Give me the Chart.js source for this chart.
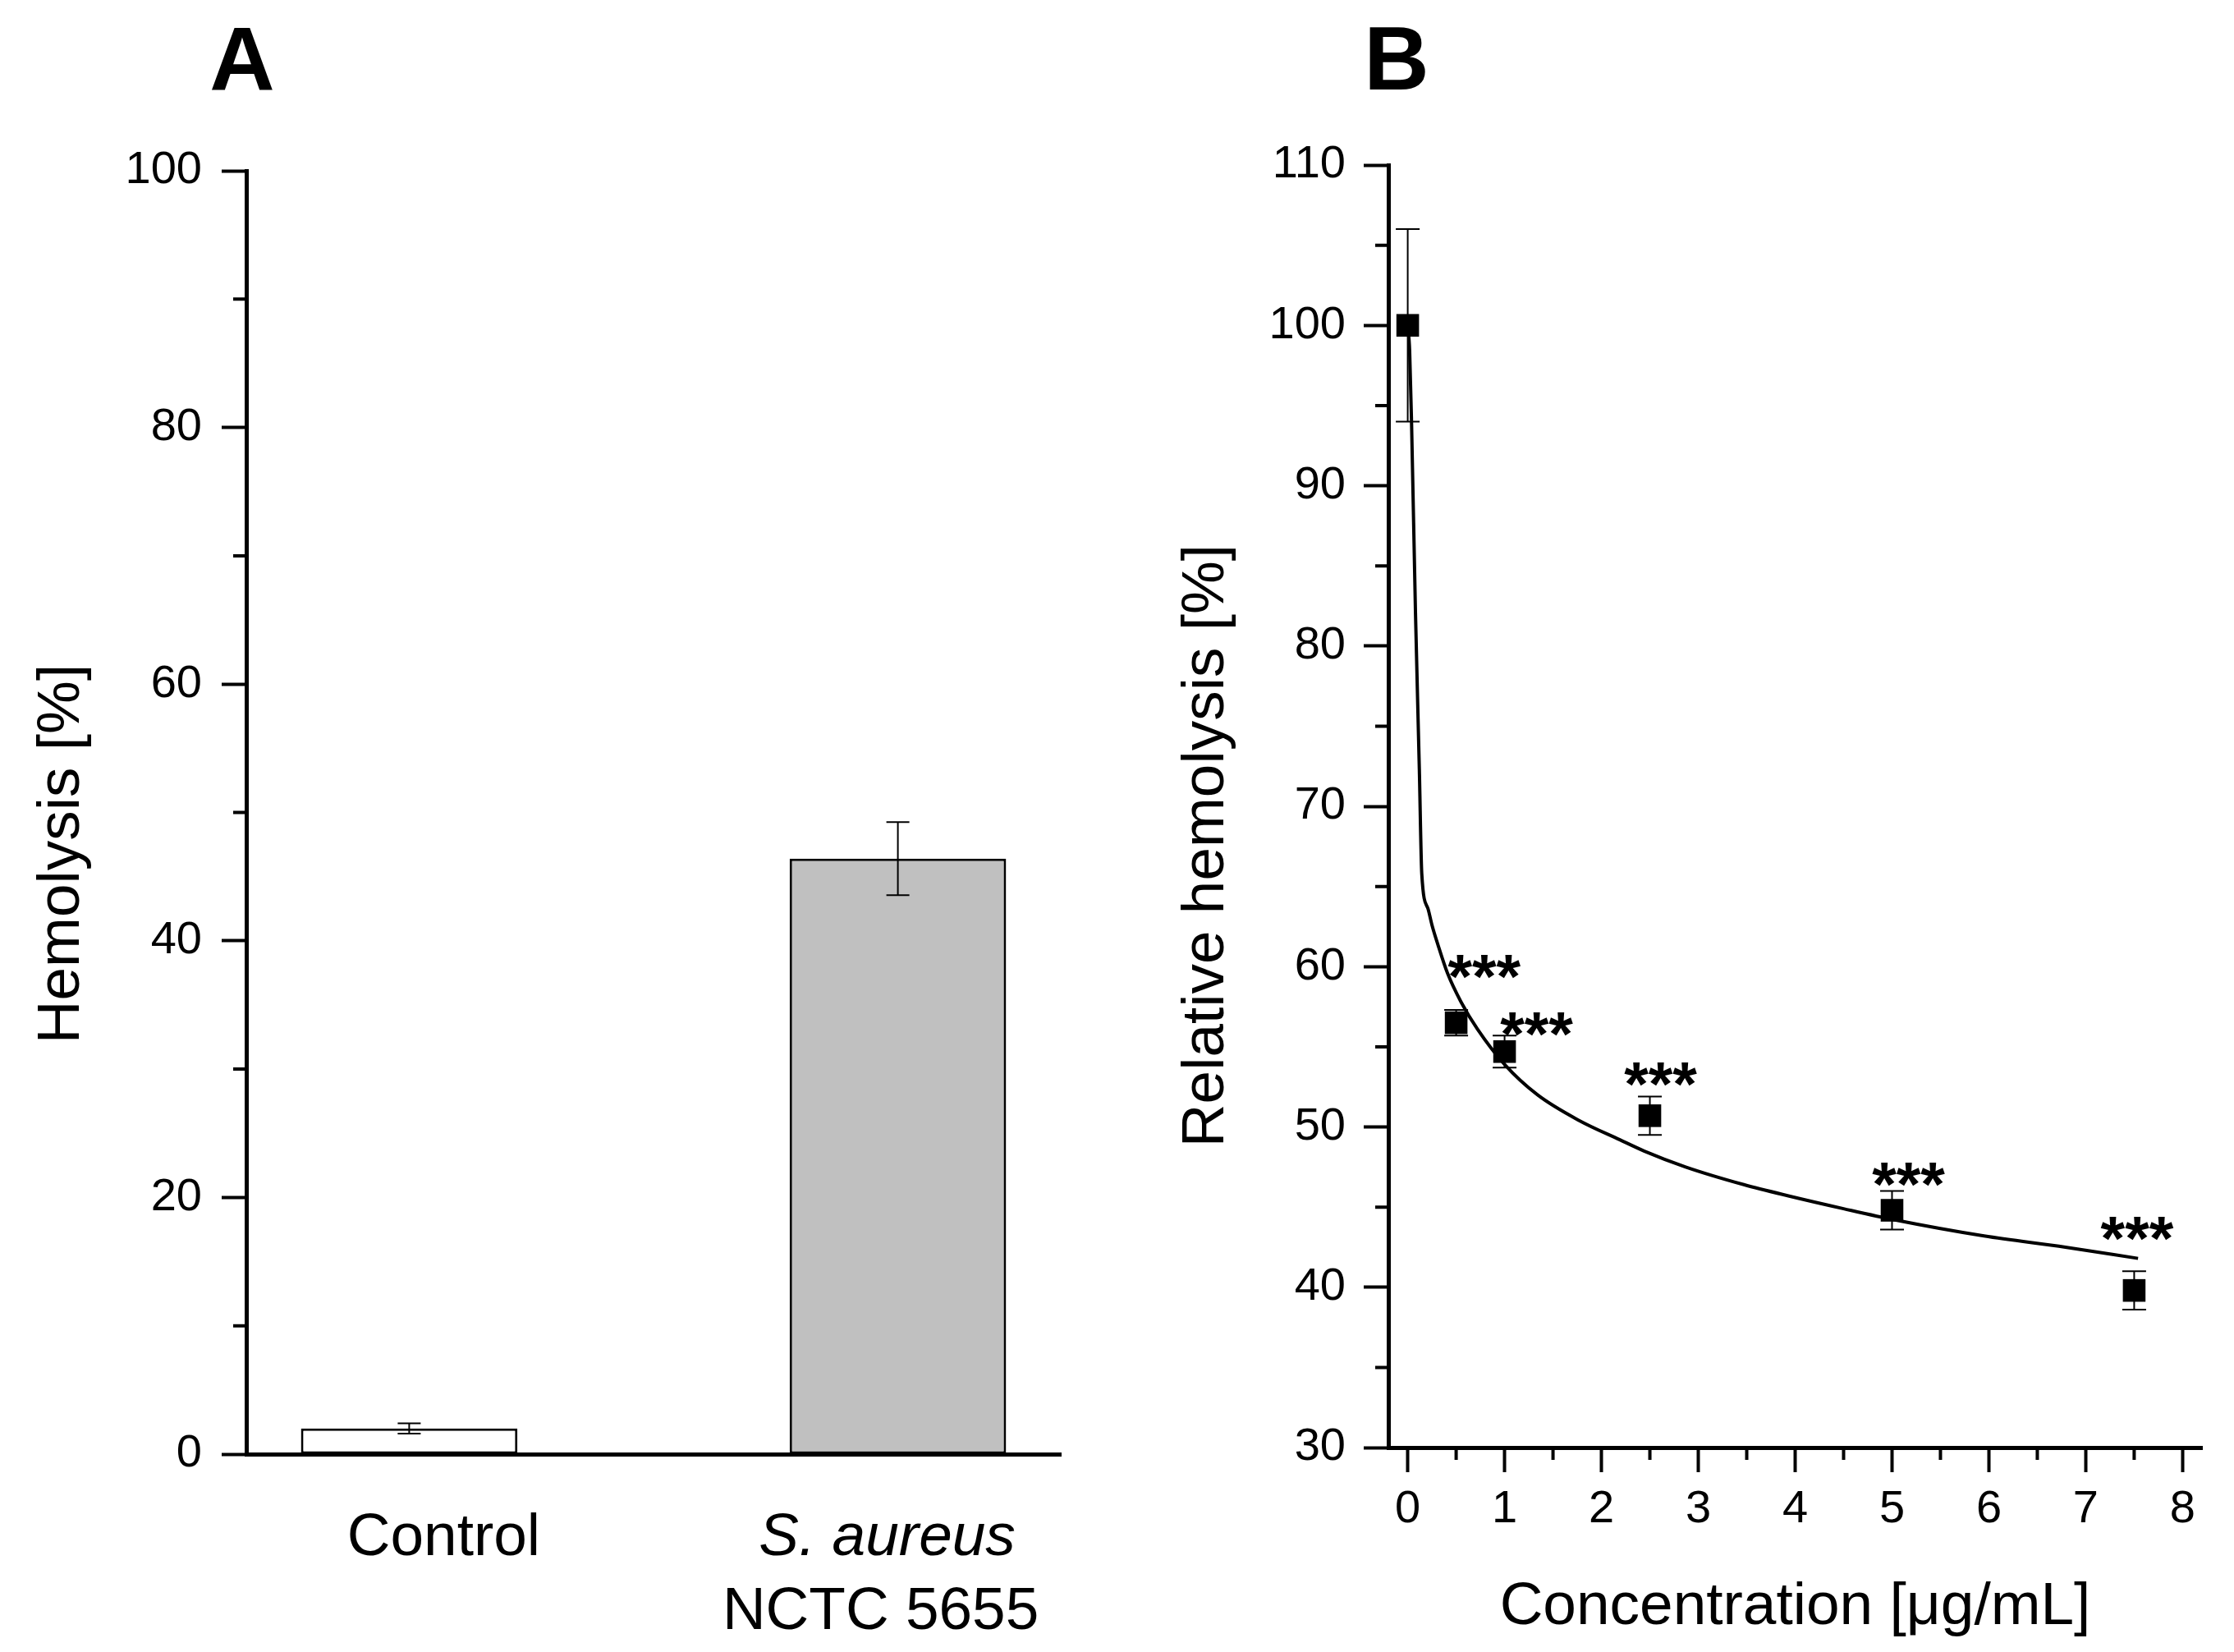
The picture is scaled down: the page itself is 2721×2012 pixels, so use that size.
<!DOCTYPE html>
<html>
<head>
<meta charset="utf-8">
<title>Hemolysis</title>
<script src="https://cdn.jsdelivr.net/npm/chart.js@4.4.1/dist/chart.umd.min.js"></script>
<style>
    html, body { margin: 0; padding: 0; background: #fff; }
    body { width: 2721px; height: 2012px; position: relative; overflow: hidden; }
    canvas { position: absolute; top: 0; }
    #chartA { left: 0; }
    #chartB { left: 1360px; }
</style>
</head>
<body>
<canvas id="chartA" width="1360" height="2012"></canvas>
<canvas id="chartB" width="1361" height="2012"></canvas>
<script>
// Panel A: hemolysis of the controls
const categoriesA = [['Control'], ['S. aureus', 'NCTC 5655']];
const hemolysisA = [2.0, 46.4];
const errorsA = [0.4, 2.85];
const yTicksA = [0, 20, 40, 60, 80, 100];

// Panel B: relative hemolysis vs concentration
const concentrationB = [0, 0.5, 1, 2.5, 5, 7.5];
const hemolysisB = [100, 56.5, 54.7, 50.7, 44.8, 39.8];
const errorsB = [6.0, 0.8, 1.0, 1.2, 1.2, 1.2];
// fitted curve
const fitX = [0, 0.02, 0.04, 0.08, 0.12, 0.145, 0.21, 0.25, 0.31, 0.41, 0.55, 0.72, 1.0, 1.34, 1.77, 2.19, 2.44, 2.87, 3.47, 3.93, 4.5, 5.03, 5.95, 6.79, 7.54];
const fitY = [100, 98.4, 93.8, 82.1, 72.3, 65.8, 63.6, 62.6, 61.4, 59.6, 57.8, 56.1, 53.9, 52.0, 50.4, 49.2, 48.5, 47.5, 46.4, 45.7, 44.9, 44.2, 43.2, 42.5, 41.8];
// significance marks
const starText = ['***', '***', '***', '***', '***'];
const starX = [0.79, 1.33, 2.61, 5.17, 7.53];
const starY = [60.3, 56.75, 53.6, 47.37, 43.97];
const xTicksB = [0, 1, 2, 3, 4, 5, 6, 7, 8];
const yTicksB = [30, 40, 50, 60, 70, 80, 90, 100, 110];

const FONT = '"Liberation Sans", Arial, sans-serif';
Chart.defaults.font.family = FONT;
Chart.defaults.color = '#000';

function midpoints(arr) {
    return arr.slice(1).map((v, i) => (v + arr[i]) / 2);
}

function minorTicks(id, scaleId, values, len) {
    return {
        id: id,
        afterDraw(chart) {
            const s = chart.scales[scaleId];
            const ctx = chart.ctx;
            ctx.save();
            ctx.strokeStyle = '#000';
            ctx.lineWidth = 4;
            ctx.beginPath();
            values.forEach(v => {
                const p = s.getPixelForValue(v);
                if (s.isHorizontal()) {
                    ctx.moveTo(p, s.top);
                    ctx.lineTo(p, s.top + len);
                } else {
                    ctx.moveTo(s.right - len, p);
                    ctx.lineTo(s.right, p);
                }
            });
            ctx.stroke();
            ctx.restore();
        }
    };
}

function errorBars(id, xs, ys, errs, cap, width) {
    return {
        id: id,
        afterDatasetsDraw(chart) {
            const ctx = chart.ctx;
            const sx = chart.scales.x, sy = chart.scales.y;
            ctx.save();
            ctx.strokeStyle = '#000';
            ctx.lineWidth = width;
            ctx.beginPath();
            ys.forEach((v, i) => {
                const px = sx.getPixelForValue(xs[i]);
                const top = sy.getPixelForValue(v + errs[i]);
                const bot = sy.getPixelForValue(v - errs[i]);
                ctx.moveTo(px, top); ctx.lineTo(px, bot);
                ctx.moveTo(px - cap / 2, top); ctx.lineTo(px + cap / 2, top);
                ctx.moveTo(px - cap / 2, bot); ctx.lineTo(px + cap / 2, bot);
            });
            ctx.stroke();
            ctx.restore();
        }
    };
}

function text(ctx, str, x, y, font, rotation) {
    ctx.save();
    ctx.translate(x, y);
    if (rotation) ctx.rotate(rotation);
    ctx.font = font;
    ctx.fillStyle = '#000';
    ctx.textAlign = 'center';
    ctx.textBaseline = 'alphabetic';
    ctx.fillText(str, 0, 0);
    ctx.restore();
}

// ---------- Panel A ----------
const positionsA = categoriesA.map((c, i) => i + 1);
const labelShiftA = [[42], [-13, -21]];

const labelsA = {
    id: 'labelsA',
    afterDraw(chart) {
        const ctx = chart.ctx;
        const sx = chart.scales.x;
        const bottom = chart.chartArea.bottom;
        text(ctx, 'A', 295, 109, 'bold 110px ' + FONT);
        text(ctx, 'Hemolysis [%]', 96, 1040, '73px ' + FONT, -Math.PI / 2);
        categoriesA.forEach((lines, i) => {
            const px = sx.getPixelForValue(positionsA[i]);
            lines.forEach((line, j) => {
                const italic = line.indexOf('aureus') >= 0 ? 'italic ' : '';
                text(ctx, line, px + labelShiftA[i][j], bottom + 123 + j * 90, italic + '73px ' + FONT);
            });
        });
    }
};

new Chart(document.getElementById('chartA'), {
    type: 'bar',
    data: {
        datasets: [{
            data: hemolysisA.map((v, i) => ({ x: positionsA[i], y: v })),
            backgroundColor: ['#ffffff', '#c0c0c0'],
            borderColor: '#000',
            borderWidth: 3,
            borderSkipped: false,
            barPercentage: 0.443,
            categoryPercentage: 1
        }]
    },
    options: {
        responsive: false,
        animation: false,
        devicePixelRatio: 1,
        layout: { padding: { left: 0, top: 208, right: 68, bottom: 0 } },
        plugins: { legend: { display: false }, tooltip: { enabled: false } },
        scales: {
            x: {
                type: 'linear',
                offset: false,
                min: 2 / 3,
                max: 7 / 3,
                afterBuildTicks: s => { s.ticks = positionsA.map(v => ({ value: v })); },
                afterFit: s => { s.height = 241; },
                ticks: { display: false },
                grid: { display: false, offset: false },
                border: { display: true, color: '#000', width: 5 }
            },
            y: {
                min: 0,
                max: 100,
                afterBuildTicks: s => { s.ticks = yTicksA.map(v => ({ value: v })); },
                afterFit: s => { s.width = 300; },
                ticks: { font: { size: 56 }, color: '#000', padding: 24 },
                grid: { drawOnChartArea: false, tickLength: 30, tickWidth: 4, tickColor: '#000' },
                border: { display: true, color: '#000', width: 5 }
            }
        }
    },
    plugins: [
        errorBars('errA', positionsA, hemolysisA, errorsA, 28, 2),
        minorTicks('minorA', 'y', midpoints(yTicksA), 16),
        labelsA
    ]
});

// ---------- Panel B ----------
const labelsB = {
    id: 'labelsB',
    afterDraw(chart) {
        const ctx = chart.ctx;
        const sx = chart.scales.x, sy = chart.scales.y;
        const area = chart.chartArea;
        text(ctx, 'B', 341, 109, 'bold 110px ' + FONT);
        text(ctx, 'Relative hemolysis [%]', 130, 1030, '73px ' + FONT, -Math.PI / 2);
        text(ctx, 'Concentration [\u03bcg/mL]', (area.left + area.right) / 2, 1978, '73px ' + FONT);
        starText.forEach((s, i) => {
            text(ctx, s, sx.getPixelForValue(starX[i]), sy.getPixelForValue(starY[i]) + 44, 'bold 76px ' + FONT);
        });
    }
};

new Chart(document.getElementById('chartB'), {
    type: 'scatter',
    data: {
        datasets: [{
            data: fitX.map((x, i) => ({ x: x, y: fitY[i] })),
            showLine: true,
            borderColor: '#000',
            borderWidth: 4,
            pointRadius: 0,
            cubicInterpolationMode: 'monotone',
            order: 2
        }, {
            data: concentrationB.map((x, i) => ({ x: x, y: hemolysisB[i] })),
            pointStyle: 'rect',
            pointRadius: 19.5,
            backgroundColor: '#000',
            borderColor: '#000',
            borderWidth: 0,
            order: 1
        }]
    },
    options: {
        responsive: false,
        animation: false,
        devicePixelRatio: 1,
        layout: { padding: { left: 0, top: 201, right: 39, bottom: 0 } },
        plugins: { legend: { display: false }, tooltip: { enabled: false } },
        scales: {
            x: {
                type: 'linear',
                min: -0.2,
                max: 8.2,
                afterBuildTicks: s => { s.ticks = xTicksB.map(v => ({ value: v })); },
                afterFit: s => { s.height = 249; },
                ticks: { font: { size: 56 }, color: '#000', padding: 12, maxRotation: 0, autoSkip: false },
                grid: { drawOnChartArea: false, tickLength: 30, tickWidth: 4, tickColor: '#000' },
                border: { display: true, color: '#000', width: 5 }
            },
            y: {
                min: 30,
                max: 110,
                afterBuildTicks: s => { s.ticks = yTicksB.map(v => ({ value: v })); },
                afterFit: s => { s.width = 331; },
                ticks: { font: { size: 56 }, color: '#000', padding: 22 },
                grid: { drawOnChartArea: false, tickLength: 30, tickWidth: 4, tickColor: '#000' },
                border: { display: true, color: '#000', width: 5 }
            }
        }
    },
    plugins: [
        errorBars('errB', concentrationB, hemolysisB, errorsB, 29, 2),
        minorTicks('minorBx', 'x', midpoints(xTicksB), 15),
        minorTicks('minorBy', 'y', midpoints(yTicksB), 16),
        labelsB
    ]
});
</script>
</body>
</html>
